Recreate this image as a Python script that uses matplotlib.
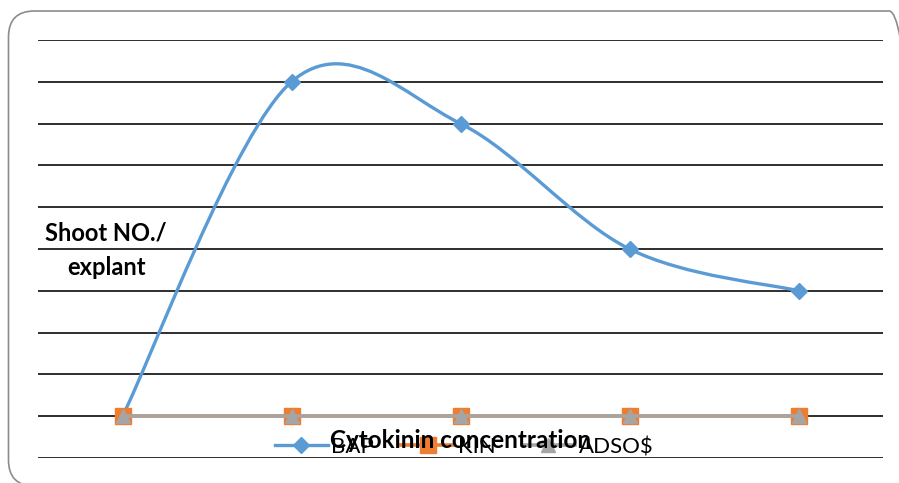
import numpy as np
import matplotlib
matplotlib.use("Agg")
import matplotlib.pyplot as plt
from matplotlib.path import Path
from matplotlib.patches import PathPatch, FancyBboxPatch
from matplotlib.lines import Line2D
from matplotlib.transforms import IdentityTransform

plt.rcParams['font.family'] = ['Lato', 'DejaVu Sans']

categories = ["1", "2", "3", "4", "5"]
bap = [0, 8, 7, 4, 3]
kin = [0, 0, 0, 0, 0]
adsos = [0, 0, 0, 0, 0]
series_names = ["BAP", "KIN", "ADSO$"]
colors = ["#5B9BD5", "#ED7D31", "#A5A5A5"]

W, H = 899, 483
fig = plt.figure(figsize=(W / 100, H / 100), dpi=100)

# rounded chart frame (pixel coordinates, origin bottom-left)
frame = FancyBboxPatch((8.5, -3), 915 - 8.5, H - 11 + 3,
                       boxstyle="round,pad=0,rounding_size=26",
                       transform=IdentityTransform(), facecolor="none",
                       edgecolor="#8c8c8c", linewidth=1.2, zorder=-1)
fig.patches.append(frame)

ax = fig.add_axes([38 / W, (H - 458) / H, 845 / W, 418 / H])
ax.set_facecolor("none")
ax.set_xlim(-0.5, 4.5)
ax.set_ylim(-1, 9)
for s in ax.spines.values():
    s.set_visible(False)
ax.set_xticks([])
ax.set_yticks([])
for yv in range(-1, 10):
    ax.axhline(yv, color="#2e2e2e", lw=1.4, zorder=1)

x = np.arange(len(categories))


def smooth_path(xs, ys):
    pts = np.column_stack([xs, ys]).astype(float)
    n = len(pts)
    verts = [pts[0]]
    codes = [Path.MOVETO]
    for i in range(n - 1):
        p0 = pts[i - 1] if i > 0 else pts[i]
        p1 = pts[i]
        p2 = pts[i + 1]
        p3 = pts[i + 2] if i + 2 < n else pts[i + 1]
        c1 = p1 + (p2 - p0) / 6.0
        c2 = p2 - (p3 - p1) / 6.0
        verts += [c1, c2, p2]
        codes += [Path.CURVE4] * 3
    return Path(verts, codes)


ax.add_patch(PathPatch(smooth_path(x, bap), facecolor="none", edgecolor=colors[0],
                       lw=2.4, zorder=3, capstyle="round"))
ax.plot(x, bap, linestyle="none", marker="D", ms=8, color=colors[0], zorder=4)
ax.plot(x, kin, color=colors[1], lw=2.6, marker="s", ms=11, zorder=5)
ax.plot(x, adsos, color=colors[2], lw=2.6, marker="^", ms=10, zorder=6)

fig.text(106 / W, 1 - 250 / H, "Shoot NO./\nexplant", ha="center", va="center",
         fontsize=17, fontweight="bold", linespacing=1.6, color="black")

handles = [
    Line2D([], [], color=colors[0], lw=2.4, marker="D", ms=8),
    Line2D([], [], color=colors[1], lw=2.6, marker="s", ms=11),
    Line2D([], [], color=colors[2], lw=2.6, marker="^", ms=10),
]
leg = fig.legend(handles, series_names, loc="center", bbox_to_anchor=(464 / W, 1 - 447 / H),
                 ncol=3, frameon=False, fontsize=16, handlelength=2.4,
                 handletextpad=0.15, columnspacing=1.2, borderpad=0)

fig.text(461 / W, 1 - 440 / H, "Cytokinin concentration", ha="center", va="center",
         fontsize=17.5, fontweight="bold", color="black", zorder=10)

fig.savefig("out.png", dpi=100)
